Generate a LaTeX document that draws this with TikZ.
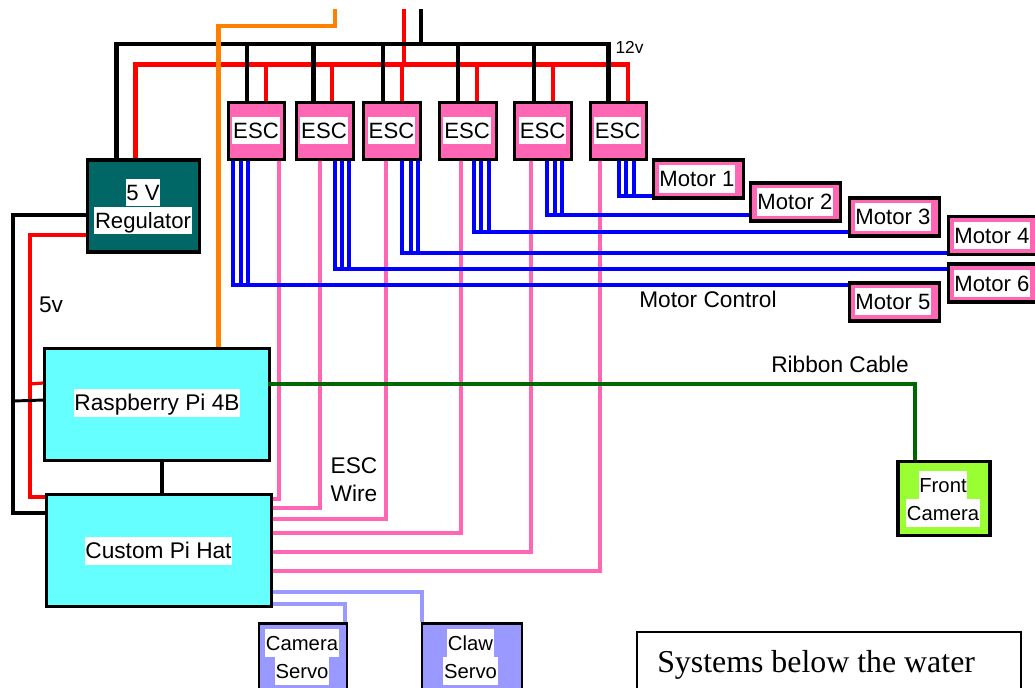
\documentclass[tikz,border=0pt]{standalone}
\usepackage{fontspec}
\setmainfont{Liberation Sans}
\newfontfamily\serifbox{Liberation Serif}
\usetikzlibrary{calc}

\definecolor{escpink}{HTML}{FF66B3}
\definecolor{regteal}{HTML}{006666}
\definecolor{picyan}{HTML}{66FFFF}
\definecolor{servoblue}{HTML}{9999FF}
\definecolor{camgreen}{HTML}{99FF33}
\definecolor{wireorange}{HTML}{FF8000}
\definecolor{wiregreen}{HTML}{006600}

\tikzset{
  unit/.style={draw=black, line width=2.4pt, inner sep=0pt},
  escbox/.style={unit, fill=escpink, minimum width=42.5pt, minimum height=42.5pt},
  motorbox/.style={unit, fill=escpink, minimum width=68pt, minimum height=28.5pt},
  pibox/.style={draw=black, line width=2.2pt, fill=picyan, inner sep=0pt, minimum width=169pt, minimum height=84pt},
  servobox/.style={unit, line width=2.2pt, fill=servoblue, minimum height=50pt},
  tag/.style={fill=white, inner xsep=0.6pt, inner ysep=0pt, text height=16pt, text depth=4.5pt, font=\fontsize{16.6}{20}\selectfont},
  smalltag/.style={tag, font=\fontsize{15.2}{18}\selectfont},
  plain/.style={inner sep=0pt, text height=16pt, text depth=4.5pt, font=\fontsize{17}{20}\selectfont},
  power/.style={line width=3.4pt},
  bluewire/.style={line width=3pt, blue},
  pinkwire/.style={line width=3pt, escpink},
  servowire/.style={line width=3pt, servoblue},
}

\begin{document}
\begin{tikzpicture}[x=0.75pt, y=-0.75pt]
\useasboundingbox (0,0) rectangle (1035,687);

% Regulator and boards
\node[unit, fill=regteal, minimum width=84pt, minimum height=69pt] (reg) at (143.5,206) {};
\node[pibox] (pi) at (157,404.5) {};
\node[pibox] (hat) at (159,550.5) {};

% ESCs
\node[escbox] (esc1) at (256.5,131) {};
\node[escbox] (esc2) at (325,131) {};
\node[escbox] (esc3) at (392,131) {};
\node[escbox] (esc4) at (468,131) {};
\node[escbox] (esc5) at (543,131) {};
\node[escbox] (esc6) at (618.5,131) {};

% Motors
\node[motorbox] (m1) at (698.5,179) {};
\node[motorbox] (m2) at (795.5,202) {};
\node[motorbox] (m3) at (894.5,217) {};
\node[motorbox] (m4) at (993.5,235.5) {};
\node[motorbox] (m6) at (993.5,283) {};
\node[motorbox] (m5) at (894.5,302) {};

% Servos, camera, caption box
\node[servobox, minimum width=66pt] (camservo) at (303,657) {};
\node[servobox, minimum width=75pt] (clawservo) at (472,657) {};
\node[unit, fill=camgreen, minimum width=69pt, minimum height=55pt] (frontcam) at (944,498.5) {};
\node[draw=black, line width=1.2pt, fill=white, minimum width=288pt, minimum height=60pt] (below) at (829,672) {};

% Bus levels
\coordinate (bus12k) at (0,44);
\coordinate (bus12r) at (0,64.5);
\coordinate (feedk) at (421,9);
\coordinate (feedr) at (404,9);
\coordinate (leftk) at (13,0);
\coordinate (leftr) at (30,0);

% 12v red
\draw[power, red] ($(reg.north)+(-8,0)$) |- ($(esc6.north |- bus12r)+(9.5,0)$) -- ($(esc6.north)+(9.5,0)$);
\draw[power, red] (feedr) -- (feedr |- bus12r);
\draw[power, red] ($(esc1.north)+(9.5,0)$) -- ++(0,-37.5);
\draw[power, red] ($(esc2.north)+(7,0)$) -- ++(0,-37.5);
\draw[power, red] ($(esc3.north)+(10,0)$) -- ++(0,-37.5);
\draw[power, red] ($(esc4.north)+(9,0)$) -- ++(0,-37.5);
\draw[power, red] ($(esc5.north)+(10,0)$) -- ++(0,-37.5);

% 12v black
\draw[power, black] ($(reg.north)+(-27,0)$) |- ($(esc6.north |- bus12k)+(-10,0)$) -- ($(esc6.north)+(-10,0)$);
\draw[power, black] (feedk) -- (feedk |- bus12k);
\draw[power, black] ($(esc1.north)+(-9.5,0)$) -- ++(0,-58);
\draw[power, black] ($(esc2.north)+(-11.5,0)$) -- ++(0,-58);
\draw[power, black] ($(esc3.north)+(-9,0)$) -- ++(0,-58);
\draw[power, black] ($(esc4.north)+(-10,0)$) -- ++(0,-58);
\draw[power, black] ($(esc5.north)+(-9,0)$) -- ++(0,-58);

% Orange feed
\draw[power, wireorange] (pi.north -| 218.5,0) -- (218.5,26) -- (335,26) -- (335,9);

% 5v
\draw[power, red] ($(reg.west)+(0,29)$) -| ($(hat.north west -| leftr)+(0,4)$) -- ($(hat.north west)+(0,4)$);
\draw[line width=2.4pt, red] (leftr |- 0,384) -- ($(pi.north west)+(0,36)$);
\draw[power, black] ($(reg.west)+(0,9)$) -| ($(hat.north west -| leftk)+(0,20)$) -- ($(hat.north west)+(0,20)$);
\draw[line width=2.2pt, black] (leftk |- 0,401) -- ($(pi.north west)+(0,53)$);
\draw[power, black] (pi.south -| 162,0) -- (hat.north -| 162,0);

% ESC wires
\draw[pinkwire] ($(esc1.south)+(22.5,0)$) |- (hat.east |- 0,499);
\draw[pinkwire] ($(esc2.south)+(-5,0)$) |- (hat.east |- 0,508);
\draw[pinkwire] ($(esc3.south)+(-6,0)$) |- (hat.east |- 0,519);
\draw[pinkwire] ($(esc4.south)+(-7,0)$) |- (hat.east |- 0,533);
\draw[pinkwire] ($(esc5.south)+(-12,0)$) |- (hat.east |- 0,552);
\draw[pinkwire] ($(esc6.south)+(-18.5,0)$) |- (hat.east |- 0,571);

% Motor wires
\coordinate (lane1) at (0,196);
\coordinate (lane2) at (0,215);
\coordinate (lane3) at (0,232);
\coordinate (lane4) at (0,253);
\coordinate (lane6) at (0,269);
\coordinate (lane5) at (0,284.5);
\foreach \d in {-23.5,-15.5,-8.5}
  \draw[bluewire] ($(esc1.south)+(\d,0)$) |- (m5.west |- lane5);
\foreach \d in {10,17,24}
  \draw[bluewire] ($(esc2.south)+(\d,0)$) |- (m6.west |- lane6);
\foreach \d in {10,19,26}
  \draw[bluewire] ($(esc3.south)+(\d,0)$) |- (m4.west |- lane4);
\foreach \d in {6,13,21}
  \draw[bluewire] ($(esc4.south)+(\d,0)$) |- (m3.west |- lane3);
\foreach \d in {4,12,19}
  \draw[bluewire] ($(esc5.south)+(\d,0)$) |- (m2.west |- lane2);
\foreach \d in {0.5,7.5,15.5}
  \draw[bluewire] ($(esc6.south)+(\d,0)$) |- (m1.west |- lane1);

% Servo wires
\draw[servowire] (hat.east |- 0,604) -| ($(camservo.north)+(42,0)$);
\draw[servowire] (hat.east |- 0,592) -| ($(clawservo.north)+(-50,0)$);

% Ribbon
\draw[power, wiregreen] (268,384) -| (frontcam.north -| 915,0);

% Labels
\node[tag] (reglabela) at (143,192.5) {5 V};
\node[tag] (reglabelb) at (143,220.5) {Regulator};
\node[tag] (esclabel1) at (256,130.5) {ESC};
\node[tag] (esclabel2) at (324,130.5) {ESC};
\node[tag] (esclabel3) at (391.5,130.5) {ESC};
\node[tag] (esclabel4) at (467,130.5) {ESC};
\node[tag] (esclabel5) at (542.5,130.5) {ESC};
\node[tag] (esclabel6) at (617.5,130.5) {ESC};
\node[tag] (mlabel1) at (697,179) {Motor 1};
\node[tag] (mlabel2) at (795,202) {Motor 2};
\node[tag] (mlabel3) at (893,217) {Motor 3};
\node[tag] (mlabel4) at (992,235.5) {Motor 4};
\node[tag] (mlabel6) at (992,283.5) {Motor 6};
\node[tag] (mlabel5) at (893,301.5) {Motor 5};
\node[tag, font=\fontsize{17}{20}\selectfont] (pilabel) at (157,403) {Raspberry Pi 4B};
\node[tag, font=\fontsize{17}{20}\selectfont] (hatlabel) at (158.5,551) {Custom Pi Hat};
\node[smalltag] (camlabela) at (302,643) {Camera};
\node[smalltag] (camlabelb) at (302,671) {Servo};
\node[smalltag] (clawlabela) at (470.5,643) {Claw};
\node[smalltag] (clawlabelb) at (470.5,671) {Servo};
\node[smalltag] (frontlabela) at (943,485) {Front};
\node[smalltag] (frontlabelb) at (943,513) {Camera};

\node[inner sep=0pt, font=\fontsize{13}{15}\selectfont] (volt12) at (629.5,47) {12v};
\node[plain] (volt5) at (51,305) {5v};
\node[plain] (motorcontrol) at (708,299.5) {Motor Control};
\node[plain] (ribbon) at (840,364.5) {Ribbon Cable};
\node[plain] (escwirea) at (354,465.5) {ESC};
\node[plain] (escwireb) at (354,493.5) {Wire};
\node[inner sep=0pt, anchor=base west, font=\serifbox\fontsize{23.9}{28}\selectfont] (belowtext) at (657,672) {Systems below the water};

\end{tikzpicture}
\end{document}
